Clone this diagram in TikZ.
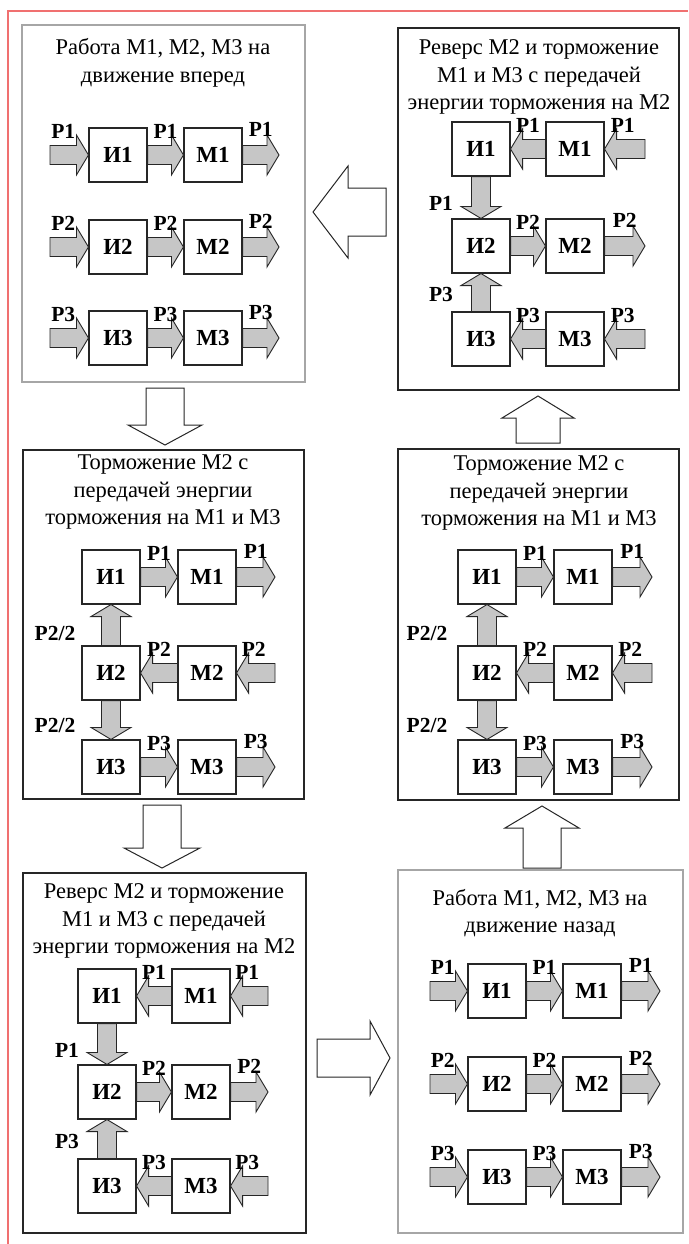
\documentclass[tikz,border=0pt]{standalone}
\usepackage{fontspec}
\setmainfont{Liberation Serif}
\usetikzlibrary{calc}
\definecolor{redframe}{RGB}{240,112,112}
\tikzset{
  blk/.style={draw=black!85, line width=1.1pt, fill=white, minimum width=58pt, minimum height=54pt, inner sep=0pt, font=\fontsize{23}{26}\selectfont\bfseries},
  plab/.style={font=\fontsize{21.5}{24}\selectfont\bfseries, inner sep=0pt},
  ttl/.style={align=center, font=\fontsize{22.5}{27.5}\selectfont, inner sep=0pt},
  garrow/.style={draw=black!85, line width=0.9pt, fill=gray!45, line join=miter},
  harrow/.style={draw=black!85, line width=1pt, fill=white, line join=miter},
  pnl/.style={draw=black!85, line width=1.3pt},
  spnl/.style={draw=gray!70, line width=2.6pt},
  redline/.style={draw=redframe, line width=2.5pt}
}
\newcommand{\blockarrow}[6]{%
  \coordinate (bac) at ($(#3)!#6!(#2)$);
  \path[#1] ($(#2)!#4!90:(#3)$) -- ($(bac)!#4!-90:(#2)$) -- ($(bac)!#5!-90:(#2)$) -- (#3) -- ($(bac)!#5!90:(#2)$) -- ($(bac)!#4!90:(#2)$) -- ($(#2)!#4!-90:(#3)$) -- cycle;
}
\newcommand{\garr}[2]{\blockarrow{garrow}{#1}{#2}{9.5pt}{20pt}{12pt}}
\newcommand{\harr}[5]{\blockarrow{harrow}{#1}{#2}{#3}{#4}{#5}}
% type A row: prefix, k, Ix, Mx, y, tailx, tipx
\newcommand{\rowA}[7]{%
  \node[blk] (#1i#2) at (#3,#5) {И#2};
  \node[blk] (#1m#2) at (#4,#5) {М#2};
  \coordinate (#1s#2) at (#6,#5);
  \coordinate (#1t#2) at (#7,#5);
  \garr{#1s#2}{#1i#2.west}
  \garr{#1i#2.east}{#1m#2.west}
  \garr{#1m#2.east}{#1t#2}
  \node[plab] (#1la#2) at ($(#1s#2)!0.5!(#1i#2.west)+(-6,-24)$) {P#2};
  \node[plab] (#1lb#2) at ($(#1i#2.east)!0.5!(#1m#2.west)+(0,-24)$) {P#2};
  \node[plab] (#1lc#2) at ($(#1m#2.east)!0.5!(#1t#2)+(0,-26)$) {P#2};
}
% type C panel: prefix, Ix, Mx, y1, y2, y3, tailx
\newcommand{\panelC}[7]{%
  \foreach \k/\yy in {1/#4,2/#5,3/#6}{
    \node[blk] (#1i\k) at (#2,\yy) {И\k};
    \node[blk] (#1m\k) at (#3,\yy) {М\k};
  }
  \coordinate (#1s1) at (#7,#4);
  \coordinate (#1t2) at (#7,#5);
  \coordinate (#1s3) at (#7,#6);
  \garr{#1s1}{#1m1.east}
  \garr{#1m1.west}{#1i1.east}
  \garr{#1i2.east}{#1m2.west}
  \garr{#1m2.east}{#1t2}
  \garr{#1s3}{#1m3.east}
  \garr{#1m3.west}{#1i3.east}
  \garr{#1i1.south}{#1i2.north}
  \garr{#1i3.north}{#1i2.south}
  \node[plab] (#1la1) at ($(#1m1.west)!0.5!(#1i1.east)+(0,-24)$) {P1};
  \node[plab] (#1lb1) at ($(#1s1)!0.5!(#1m1.east)+(-2,-24)$) {P1};
  \node[plab] (#1la2) at ($(#1i2.east)!0.5!(#1m2.west)+(0,-24)$) {P2};
  \node[plab] (#1lb2) at ($(#1m2.east)!0.5!(#1t2)+(0,-26)$) {P2};
  \node[plab] (#1la3) at ($(#1m3.west)!0.5!(#1i3.east)+(0,-24)$) {P3};
  \node[plab] (#1lb3) at ($(#1s3)!0.5!(#1m3.east)+(-2,-24)$) {P3};
  \node[plab] (#1lv1) at ($(#1i1.south)!0.5!(#1i2.north)+(-40,6)$) {P1};
  \node[plab] (#1lv3) at ($(#1i3.north)!0.5!(#1i2.south)+(-40,2)$) {P3};
}
% type B panel: prefix, Ix, Mx, y1, y2, y3, tailx, label dx
\newcommand{\panelB}[8]{%
  \foreach \k/\yy in {1/#4,2/#5,3/#6}{
    \node[blk] (#1i\k) at (#2,\yy) {И\k};
    \node[blk] (#1m\k) at (#3,\yy) {М\k};
  }
  \coordinate (#1t1) at (#7,#4);
  \coordinate (#1s2) at (#7,#5);
  \coordinate (#1t3) at (#7,#6);
  \garr{#1i1.east}{#1m1.west}
  \garr{#1m1.east}{#1t1}
  \garr{#1s2}{#1m2.east}
  \garr{#1m2.west}{#1i2.east}
  \garr{#1i3.east}{#1m3.west}
  \garr{#1m3.east}{#1t3}
  \garr{#1i2.north}{#1i1.south}
  \garr{#1i2.south}{#1i3.north}
  \node[plab] (#1la1) at ($(#1i1.east)!0.5!(#1m1.west)+(0,-24)$) {P1};
  \node[plab] (#1lb1) at ($(#1m1.east)!0.5!(#1t1)+(0,-26)$) {P1};
  \node[plab] (#1la2) at ($(#1m2.west)!0.5!(#1i2.east)+(0,-24)$) {P2};
  \node[plab] (#1lb2) at ($(#1s2)!0.5!(#1m2.east)+(-2,-24)$) {P2};
  \node[plab] (#1la3) at ($(#1i3.east)!0.5!(#1m3.west)+(0,-24)$) {P3};
  \node[plab] (#1lb3) at ($(#1m3.east)!0.5!(#1t3)+(0,-26)$) {P3};
  \node[plab] (#1lv1) at ($(#1i2.north)!0.5!(#1i1.south)+(#8,8)$) {P2/2};
  \node[plab] (#1lv3) at ($(#1i2.south)!0.5!(#1i3.north)+(#8,5)$) {P2/2};
}
\begin{document}
\begin{tikzpicture}[x=1pt,y=-1pt]
\useasboundingbox (0,0) rectangle (688,1244);
\fill[white] (0,0) rectangle (688,1244);
\draw[redline] (8,1244) -- (8,11) -- (688,11);

% panel frames
\draw[spnl] (22,25) rectangle (305,382);
\draw[pnl] (398,28) rectangle (679,390);
\draw[pnl] (23,450) rectangle (304,799);
\draw[pnl] (398,449) rectangle (679,800);
\draw[pnl] (23,873) rectangle (306,1233);
\draw[spnl] (398,870) rectangle (683,1233);

% titles
\node[ttl] (t1) at (163,63) {Работа М1, М2, М3 на\\движение вперед};
\node[ttl] (t2) at (539,77) {Реверс М2 и торможение\\М1 и М3 с передачей\\энергии торможения на М2};
\node[ttl] (t3) at (163,492) {Торможение М2 с\\передачей энергии\\торможения на М1 и М3};
\node[ttl] (t4) at (539,493) {Торможение М2 с\\передачей энергии\\торможения на М1 и М3};
\node[ttl] (t5) at (164,921) {Реверс М2 и торможение\\М1 и М3 с передачей\\энергии торможения на М2};
\node[ttl] (t6) at (540,913) {Работа М1, М2, М3 на\\движение назад};

% panel 1
\rowA{a}{1}{118}{213}{155}{50}{279}
\rowA{a}{2}{118}{213}{247}{50}{279}
\rowA{a}{3}{118}{213}{338}{50}{279}
% panel 6
\rowA{f}{1}{497}{592}{991}{430}{660}
\rowA{f}{2}{497}{592}{1084}{430}{660}
\rowA{f}{3}{497}{592}{1177}{430}{660}
% panel 2 and 5
\panelC{b}{481}{575}{149}{246}{339}{645}
\panelC{e}{107}{201}{996}{1092}{1186}{268}
% panel 3 and 4
\panelB{c}{111}{207}{577}{673}{767}{275}{-56}
\panelB{d}{487}{583}{577}{673}{767}{652}{-60}

% transition arrows
\coordinate (h1s) at (386,212); \coordinate (h1t) at (313,212);
\coordinate (h2s) at (165,388); \coordinate (h2t) at (165,445);
\coordinate (h3s) at (162,805); \coordinate (h3t) at (162,868);
\coordinate (h4s) at (317,1058); \coordinate (h4t) at (390,1058);
\coordinate (h5s) at (542,868); \coordinate (h5t) at (542,806);
\coordinate (h6s) at (538,443); \coordinate (h6t) at (538,396);
\harr{h1s}{h1t}{24pt}{46pt}{35pt}
\harr{h2s}{h2t}{19pt}{37pt}{20pt}
\harr{h3s}{h3t}{19pt}{38pt}{20pt}
\harr{h4s}{h4t}{19pt}{37pt}{20pt}
\harr{h5s}{h5t}{19pt}{37pt}{22pt}
\harr{h6s}{h6t}{22pt}{36pt}{22pt}
\end{tikzpicture}
\end{document}
